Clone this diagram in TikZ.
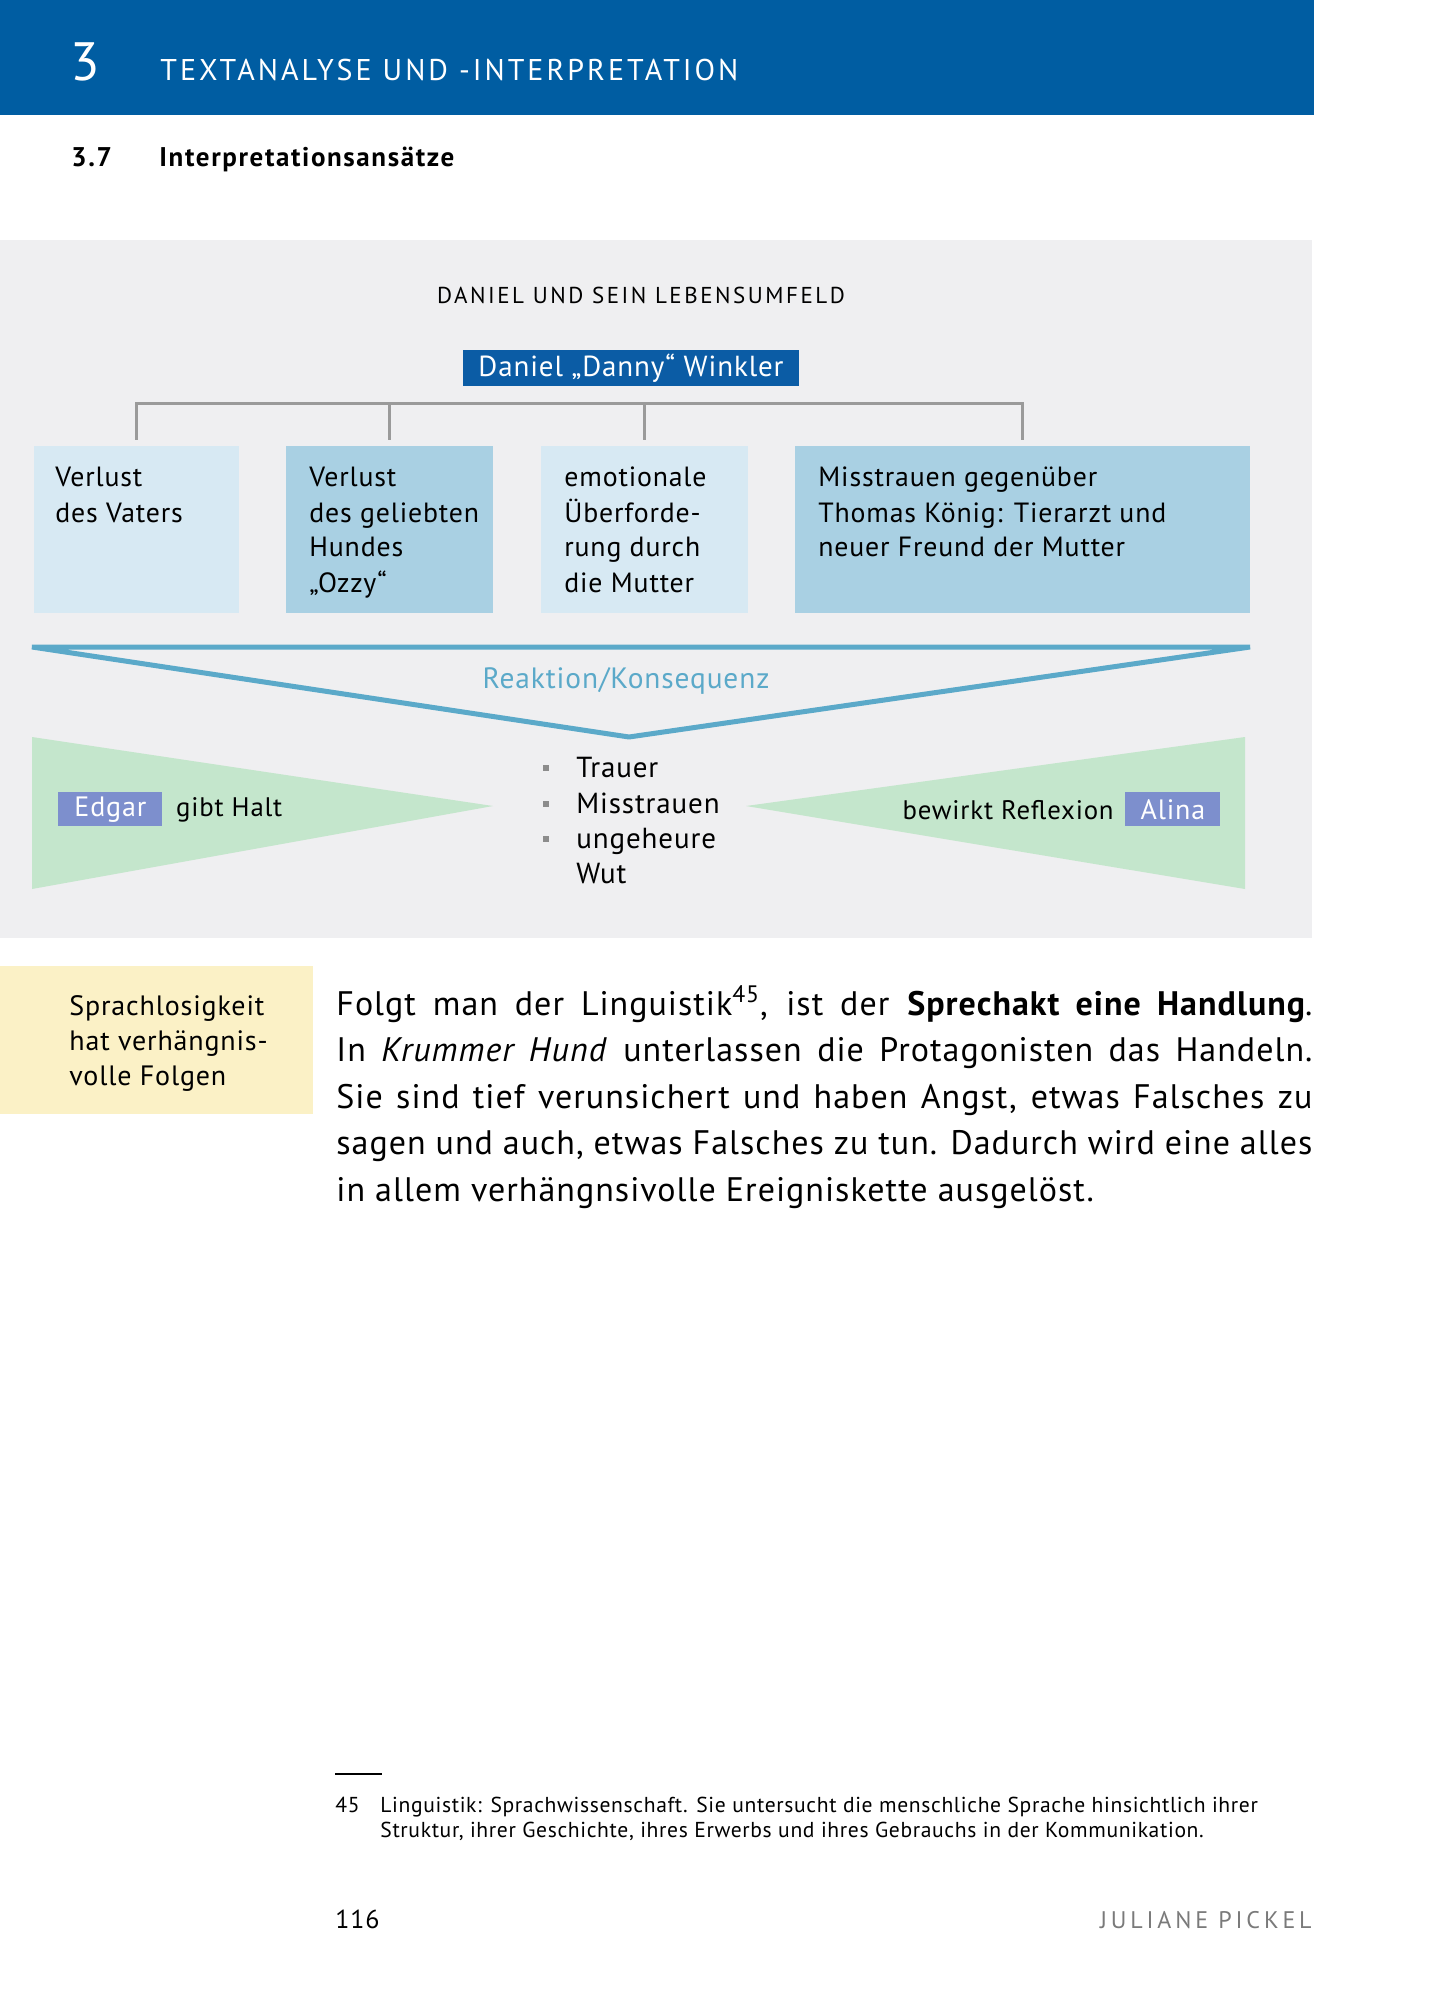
\documentclass[tikz,border=0pt]{standalone}
\usepackage{fontspec}
\setmainfont{PT Sans}[LetterSpace=3]
\usetikzlibrary{positioning,calc}

\definecolor{headblue}{HTML}{005DA2}
\definecolor{nameblue}{HTML}{0B5CA5}
\definecolor{panelgray}{HTML}{EFEFF1}
\definecolor{boxlight}{HTML}{D7E9F3}
\definecolor{boxdark}{HTML}{A9D0E3}
\definecolor{treegray}{HTML}{9A9A9A}
\definecolor{reakblue}{HTML}{5BA9C9}
\definecolor{relgreen}{HTML}{C4E6CC}
\definecolor{persblue}{HTML}{7D8FCD}
\definecolor{sideyellow}{HTML}{FBF1C6}
\definecolor{footgray}{HTML}{7A7A7A}
\definecolor{bulletgray}{HTML}{8C8C8C}

\newcommand{\fsz}[2]{\fontsize{#1}{#2}\selectfont}
% lines stacked from the first baseline down
\newcommand{\toplines}[1]{\vtop{\let\\\cr\halign{##\hfil\cr#1\crcr}}}

\tikzset{
  txt/.style={anchor=base west, inner sep=0pt},
  infobox/.style={anchor=north west, inner sep=0pt, minimum height=83.5pt},
  boxtext/.style={txt, font=\fsz{13.9}{17.5}},
  tree/.style={draw=treegray, line width=1.5pt},
  persbox/.style={anchor=north west, fill=persblue, text=white, inner sep=0pt,
    minimum height=17pt, font=\fsz{14}{14}},
  bullettext/.style={txt, font=\fsz{14.5}{17.5}},
  bulletsq/.style={fill=bulletgray, inner sep=0pt, minimum size=3.2pt},
  bodyline/.style={txt, font=\fsz{17}{23}},
}

\begin{document}
\begin{tikzpicture}[x=0.5pt,y=-0.5pt]
\useasboundingbox (0,0) rectangle (1444,2000);
\fill[white] (0,0) rectangle (1444,2000);

% kopf
\fill[headblue] (0,0) rectangle (1314,115);
\node[txt, text=white, font=\fsz{27}{27}] (chapno) at (70,81) {3};
\node[txt, text=white, font=\fsz{15}{15}\addfontfeatures{LetterSpace=10}] (chaptitle) at (160,81) {TEXTANALYSE UND -INTERPRETATION};
\node[txt, font=\bfseries\fsz{13.5}{13.5}\addfontfeatures{LetterSpace=6}] (secno) at (71,167) {3.7};
\node[txt, font=\bfseries\fsz{13.5}{13.5}\addfontfeatures{LetterSpace=6}] (sectitle) at (159,167) {Interpretationsansätze};

% grafik
\fill[panelgray] (0,240) rectangle (1312,938);
\node[anchor=base, inner sep=0pt, font=\fsz{11.5}{11.5}\addfontfeatures{LetterSpace=11}] (paneltitle) at (641,304) {DANIEL UND SEIN LEBENSUMFELD};
\node[fill=nameblue, text=white, inner sep=0pt, minimum width=168pt, minimum height=18pt, font=\fsz{14.5}{14.5}] (danny) at (631,368) {Daniel „Danny“ Winkler};

\node[infobox, fill=boxlight, minimum width=102.5pt] (vater) at (34,446) {};
\node[infobox, fill=boxdark, minimum width=103.5pt] (hund) at (286,446) {};
\node[infobox, fill=boxlight, minimum width=103.5pt] (mutter) at (541,446) {};
\node[infobox, fill=boxdark, minimum width=227.5pt] (koenig) at (795,446) {};

\node[boxtext] (vatertxt) at (55,487) {\toplines{Verlust\\des Vaters}};
\node[boxtext] (hundtxt) at (309,487) {\toplines{Verlust\\des geliebten\\Hundes\\„Ozzy“}};
\node[boxtext] (muttertxt) at (564,487) {\toplines{emotionale\\Überforde-\\rung durch\\die Mutter}};
\node[boxtext] (koenigtxt) at (818,487) {\toplines{Misstrauen gegenüber\\Thomas König: Tierarzt und\\neuer Freund der Mutter}};

\coordinate (bar) at (0,404);
\draw[tree] ([yshift=3pt]vater.north) -- (vater.north |- bar) -- (koenig.north |- bar) -- ([yshift=3pt]koenig.north);
\draw[tree] ([yshift=3pt]hund.north) -- (hund.north |- bar);
\draw[tree] ([yshift=3pt]mutter.north) -- (mutter.north |- bar);

\coordinate (rkl) at (32,647);
\coordinate (rkr) at (1250,647);
\coordinate (rkt) at (629,737);
\draw[reakblue, line width=2.5pt, line join=bevel] (rkl) -- (rkr) -- (rkt) -- cycle;
\node[anchor=base, inner sep=0pt, text=reakblue, font=\fsz{14.7}{14.7}] (reaktion) at (626,688) {Reaktion/Konsequenz};

\fill[relgreen] (32,737) -- (493,806) -- (32,889) -- cycle;
\fill[relgreen] (1245,737) -- (746,806) -- (1245,889) -- cycle;

\node[persbox, minimum width=52pt] (edgar) at (58,792) {Edgar};
\node[txt, font=\fsz{13.4}{13.4}] (halt) at ([xshift=6.5pt]edgar.base east) {gibt Halt};
\node[persbox, minimum width=47.5pt] (alina) at (1125,792) {Alina};
\node[txt, anchor=base east, font=\fsz{13.4}{13.4}] (reflexion) at ([xshift=-5.5pt]alina.base west) {bewirkt Reflexion};

\node[bullettext] (trauer) at (576,777) {Trauer};
\node[bullettext] (misstrauen) at (576,813) {Misstrauen};
\node[bullettext] (ungeheure) at (576,848) {ungeheure};
\node[bullettext] (wut) at (576,883) {Wut};
\foreach \item in {trauer,misstrauen,ungeheure}
  \node[bulletsq] (sq\item) at ([xshift=-15pt,yshift=4.5pt]\item.base west) {};

% text
\fill[sideyellow] (0,966) rectangle (313,1114);
\node[txt, font=\fsz{14}{14}] (side1) at (69,1015) {Sprachlosigkeit};
\node[txt, font=\fsz{14}{14}] (side2) at (69,1050) {hat verhängnis-};
\node[txt, font=\fsz{14}{14}] (side3) at (69,1085) {volle Folgen};

\node[bodyline] (line1) at (336,1015) {\makebox[488pt][s]{Folgt man der Linguistik\textsuperscript{45}, ist der \textbf{Sprechakt eine Handlung}.}};
\node[bodyline] (line2) at (336,1061) {\makebox[488pt][s]{In \textit{Krummer Hund} unterlassen die Protagonisten das Handeln.}};
\node[bodyline] (line3) at (336,1108) {\makebox[488pt][s]{Sie sind tief verunsichert und haben Angst, etwas Falsches zu}};
\node[bodyline] (line4) at (336,1154) {\makebox[488pt][s]{sagen und auch, etwas Falsches zu tun. Dadurch wird eine alles}};
\node[bodyline] (line5) at (336,1201) {in allem verhängnsivolle Ereigniskette ausgelöst.};

% fussnote
\coordinate (fnl) at (335,1774);
\coordinate (fnr) at (382,1774);
\draw[line width=1pt] (fnl) -- (fnr);
\node[txt, font=\fsz{10.8}{12.5}] (fnno) at (335,1812) {45};
\node[txt, font=\fsz{10.8}{12.5}] (fntext) at (380,1812) {\toplines{Linguistik: Sprachwissenschaft. Sie untersucht die menschliche Sprache hinsichtlich ihrer\\Struktur, ihrer Geschichte, ihres Erwerbs und ihres Gebrauchs in der Kommunikation.}};

\node[txt, font=\fsz{13}{13}] (pageno) at (335,1928) {116};
\node[txt, anchor=base east, text=footgray, font=\fsz{12}{12}\addfontfeatures{LetterSpace=16}] (author) at (1312,1928) {JULIANE PICKEL};
\end{tikzpicture}
\end{document}
